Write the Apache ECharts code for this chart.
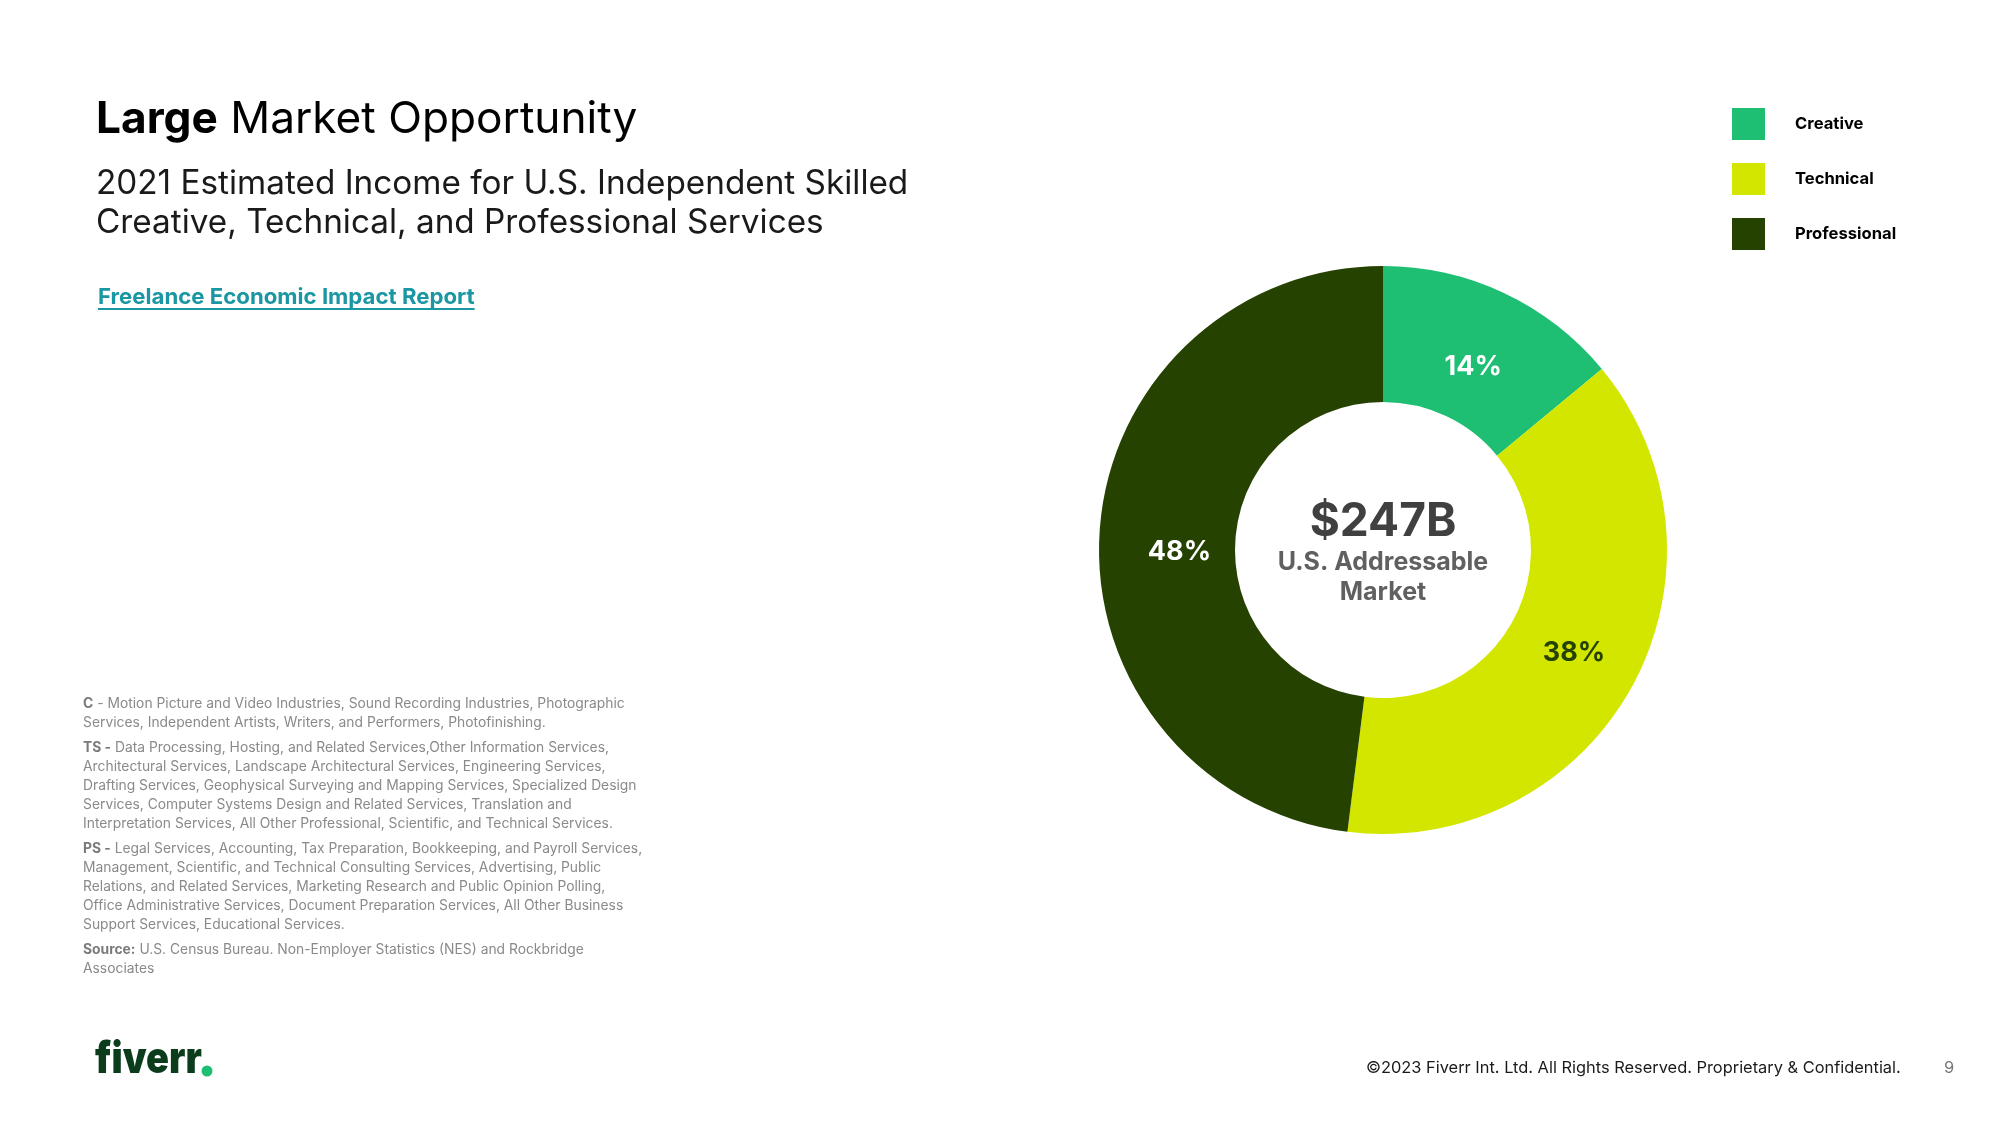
<!DOCTYPE html>
<html>
<head>
<meta charset="utf-8">
<script src="https://cdn.jsdelivr.net/npm/echarts@6/dist/echarts.min.js"></script>
<style>
html,body{margin:0;padding:0;background:#fff;}
#chart{width:2000px;height:1125px;}
</style>
</head>
<body>
<div id="chart"></div>
<script>
// ---- data ----
const categories = ['Creative', 'Technical', 'Professional'];
const shares = [14, 38, 48];            // percent of U.S. addressable market
const totalLabel = '$247B';
const centerLines = ['U.S. Addressable', 'Market'];
const footnotes = [
  [['C', ' - Motion Picture and Video Industries, Sound Recording Industries, Photographic'], ['', 'Services, Independent Artists, Writers, and Performers, Photofinishing.']],
  [['TS -', ' Data Processing, Hosting, and Related Services,Other Information Services,'], ['', 'Architectural Services, Landscape Architectural Services, Engineering Services,'], ['', 'Drafting Services, Geophysical Surveying and Mapping Services, Specialized Design'], ['', 'Services, Computer Systems Design and Related Services, Translation and'], ['', 'Interpretation Services, All Other Professional, Scientific, and Technical Services.']],
  [['PS -', ' Legal Services, Accounting, Tax Preparation, Bookkeeping, and Payroll Services,'], ['', 'Management, Scientific, and Technical Consulting Services, Advertising, Public'], ['', 'Relations, and Related Services, Marketing Research and Public Opinion Polling,'], ['', 'Office Administrative Services, Document Preparation Services, All Other Business'], ['', 'Support Services, Educational Services.']],
  [['Source:', ' U.S. Census Bureau. Non-Employer Statistics (NES) and Rockbridge'], ['', 'Associates']]
];

// ---- styles ----
const colors = ['#1fbf73', '#d3e600', '#264200'];
const labelColors = ['#ffffff', '#264200', '#ffffff'];
const labelOffsets = [[-3, 15], [-1, -3], [15, 16]];
const FONT = 'Inter, "Noto Sans", sans-serif';

const chart = echarts.init(document.getElementById('chart'), null, {renderer: 'canvas'});

// measure link width for underline
const ctx = document.createElement('canvas').getContext('2d');
ctx.font = 'bold 22.2px Inter';
const linkText = 'Freelance Economic Impact Report';
const linkW = ctx.measureText(linkText).width;

const graphics = [];
// title
graphics.push({
  type: 'text', left: 96, top: 98,
  style: {
    text: '{b|Large}{r| Market Opportunity}',
    rich: {
      b: {font: 'bold 44.2px ' + FONT, fill: '#000'},
      r: {font: '44.2px ' + FONT, fill: '#000'}
    }
  }
});
graphics.push({
  type: 'text', left: 96, top: 165,
  style: {
    text: '2021 Estimated Income for U.S. Independent Skilled\nCreative, Technical, and Professional Services',
    font: '33.3px ' + FONT, fill: '#1a1a1a', lineHeight: 38.5
  }
});
graphics.push({
  type: 'text', left: 98, top: 286,
  style: {text: linkText, font: 'bold 22.2px ' + FONT, fill: '#1a97a3'}
});
graphics.push({
  type: 'line', shape: {x1: 98, y1: 309, x2: 98 + linkW, y2: 309},
  style: {stroke: '#1a97a3', lineWidth: 2}
});

// footnotes
let y = 697;
footnotes.forEach((block) => {
  block.forEach((ln) => {
    graphics.push({
      type: 'text', left: 83, top: y,
      style: {
        text: (ln[0] ? '{b|' + ln[0] + '}' : '') + '{r|' + ln[1] + '}',
        rich: {
          b: {font: 'bold 13.85px ' + FONT, fill: '#7a7a7a'},
          r: {font: '13.85px ' + FONT, fill: '#8a8a8a'}
        }
      }
    });
    y += 19.1;
  });
  y += 5.5;
});

// center text
graphics.push({
  type: 'text', x: 1383, y: 522,
  style: {text: totalLabel, font: 'bold 46px ' + FONT, fill: '#404040', align: 'center', verticalAlign: 'middle'}
});
graphics.push({
  type: 'text', x: 1383, y: 577,
  style: {text: centerLines.join('\n'), font: 'bold 25px ' + FONT, fill: '#606060', align: 'center', verticalAlign: 'middle', lineHeight: 30}
});

// logo
graphics.push({
  type: 'text', x: 95, y: 1038, scaleX: 0.86,
  style: {text: 'fiverr', font: '900 44px ' + FONT, fill: '#0b3d1c', x: 0, y: 0, verticalAlign: 'top'}
});
graphics.push({
  type: 'circle', shape: {cx: 207, cy: 1071, r: 5.5}, style: {fill: '#1fbf73'}
});

// footer
graphics.push({
  type: 'text', left: 1366, top: 1060,
  style: {text: '\u00a92023 Fiverr Int. Ltd. All Rights Reserved. Proprietary & Confidential.', font: '16.4px ' + FONT, fill: '#1a1a1a'}
});
graphics.push({
  type: 'text', left: 1944, top: 1060,
  style: {text: '9', font: '16.4px ' + FONT, fill: '#777'}
});

chart.setOption({
  backgroundColor: '#ffffff',
  animation: false,
  color: colors,
  legend: {
    orient: 'vertical', left: 1727, top: 103,
    itemWidth: 33, itemHeight: 32, itemGap: 23,
    icon: 'rect',
    data: categories,
    textStyle: {fontFamily: FONT, fontWeight: 'bold', fontSize: 16.6, color: '#000', padding: [0, 0, 0, 25]}
  },
  series: [{
    type: 'pie',
    center: [1383, 550],
    radius: [148, 284],
    startAngle: 90,
    clockwise: true,
    silent: true,
    label: {
      show: true, position: 'inside',
      formatter: '{c}%',
      fontFamily: FONT, fontWeight: 'bold', fontSize: 27
    },
    labelLine: {show: false},
    emphasis: {disabled: true},
    data: categories.map((c, i) => ({
      name: c, value: shares[i],
      label: {color: labelColors[i], offset: labelOffsets[i]}
    }))
  }],
  graphic: graphics
});
</script>
</body>
</html>
